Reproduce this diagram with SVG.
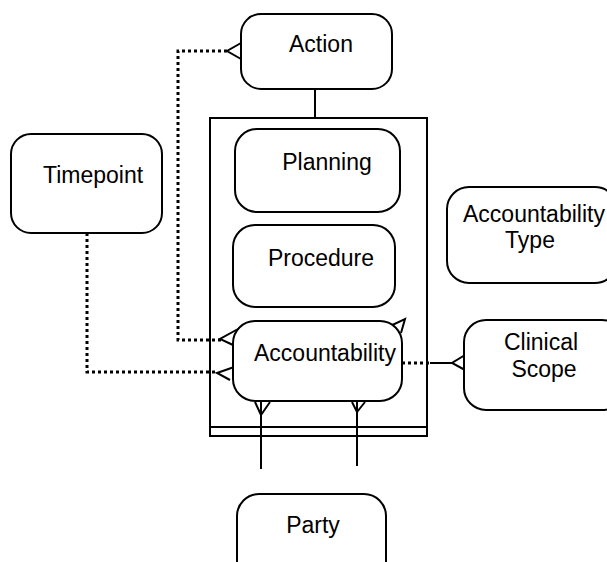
<svg xmlns="http://www.w3.org/2000/svg" width="607" height="562" viewBox="0 0 607 562">
<style>
.box{fill:#fff;stroke:#000;stroke-width:2}
.ln{fill:none;stroke:#000;stroke-width:2}
.dot{fill:none;stroke:#000;stroke-width:3;stroke-dasharray:3 3}
.t{font-family:"Liberation Sans",Arial,sans-serif;font-size:23px;fill:#000}
</style>
<rect width="607" height="562" fill="#fff"/>
<g id="container">
<rect class="ln" x="210" y="118" width="217" height="318"/>
<line class="ln" x1="210" y1="427" x2="427" y2="427"/>
</g>
<g id="connectors">
<line class="ln" x1="315" y1="89" x2="315" y2="118"/>
<polyline class="dot" points="227,51 178,51 178,340 222,340"/>
<polyline class="ln" points="241,43 227,51 241,59"/>
<polyline class="dot" points="87,233 87,372 218,372"/>
<polyline class="ln" points="238,329 220,339 233,345"/>
<polyline class="ln" points="237,366 217,373 230,380"/>
<polyline class="ln" points="388,327 405,319 401,333"/>
<line class="dot" x1="402" y1="363" x2="430" y2="363"/>
<line class="ln" x1="430" y1="363" x2="452" y2="363"/>
<polyline class="ln" points="465,355 452,363 465,370"/>
<line class="ln" x1="261" y1="402" x2="261" y2="469"/>
<polyline class="ln" points="255,402 261,415 270,402"/>
<line class="ln" x1="357" y1="402" x2="357" y2="466"/>
<polyline class="ln" points="352,402 357,412 365,402"/>
</g>
<g id="action">
<rect class="box" x="241" y="14" width="151" height="75" rx="20"/>
<text class="t" x="321" y="52" text-anchor="middle">Action</text>
</g>
<g id="timepoint">
<rect class="box" x="11" y="134" width="151" height="99" rx="20"/>
<text class="t" x="43" y="183">Timepoint</text>
</g>
<g id="planning">
<rect class="box" x="235" y="129" width="165" height="83" rx="22"/>
<text class="t" x="327" y="170" text-anchor="middle">Planning</text>
</g>
<g id="procedure">
<rect class="box" x="233" y="225" width="162" height="82" rx="22"/>
<text class="t" x="321" y="266" text-anchor="middle">Procedure</text>
</g>
<g id="accountability">
<rect class="box" x="233" y="321" width="169" height="80" rx="22"/>
<text class="t" x="254" y="361">Accountability</text>
</g>
<g id="accountability-type">
<rect class="box" x="447" y="187" width="170" height="96" rx="22"/>
<text class="t" x="463" y="222">Accountability</text>
<text class="t" x="530" y="248" text-anchor="middle">Type</text>
</g>
<g id="clinical-scope">
<rect class="box" x="464" y="320" width="160" height="90" rx="22"/>
<text class="t" x="541" y="350" text-anchor="middle">Clinical</text>
<text class="t" x="544" y="377" text-anchor="middle">Scope</text>
</g>
<g id="party">
<rect class="box" x="237" y="494" width="149" height="90" rx="22"/>
<text class="t" x="313" y="533" text-anchor="middle">Party</text>
</g>
</svg>
